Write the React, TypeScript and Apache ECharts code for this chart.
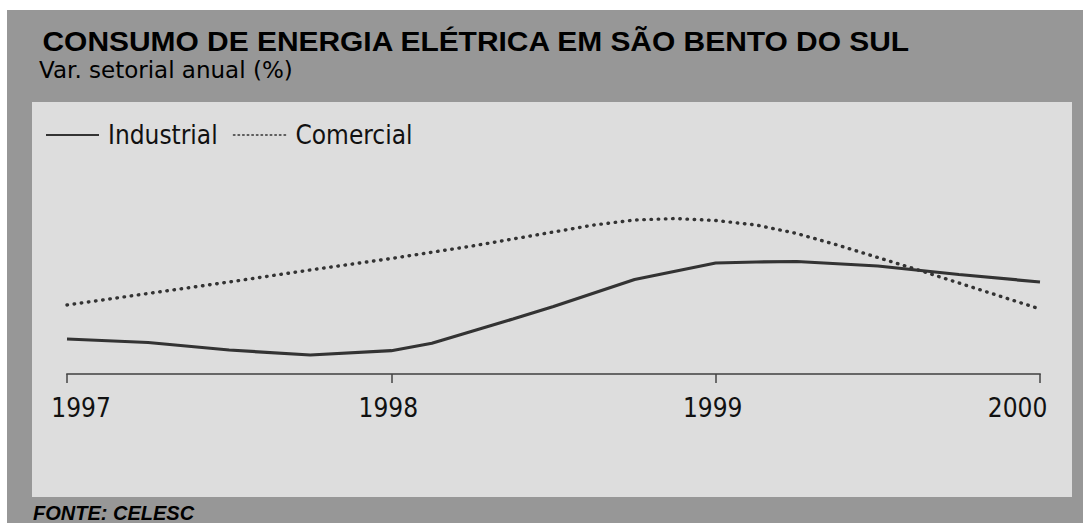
import React, { useEffect, useRef } from "react";
import * as echarts from "echarts";

const yearTicks = ["1997", "1998", "1999", "2000"];

const industrialYears = [1997, 1997.25, 1997.5, 1997.75, 1998, 1998.125, 1998.375, 1998.5, 1998.75, 1999, 1999.125, 1999.25, 1999.5, 1999.75, 2000];
const industrialValues = [3.5, 3.15, 2.4, 1.9, 2.33, 3.07, 5.5, 6.75, 9.45, 11.1, 11.2, 11.25, 10.8, 9.95, 9.2];

const comercialYears = [1997, 1997.25, 1997.5, 1997.75, 1998, 1998.25, 1998.5, 1998.625, 1998.75, 1998.875, 1999, 1999.125, 1999.25, 1999.375, 1999.5, 1999.625, 1999.75, 1999.875, 2000];
const comercialValues = [6.9, 8.05, 9.2, 10.4, 11.55, 12.8, 14.2, 14.9, 15.4, 15.55, 15.35, 14.9, 14.05, 12.9, 11.65, 10.4, 9.1, 7.8, 6.5];

const seriesNames = ["Industrial", "Comercial"];

const COND = "'DejaVu Sans Condensed', 'DejaVu Sans', sans-serif";

export default function App() {
  const ref = useRef<HTMLDivElement>(null);
  useEffect(() => {
    if (!ref.current) return;
    const chart = echarts.init(ref.current, null, { renderer: "svg" });
    const labelStyle = { fontSize: 26, fontFamily: COND, color: "#111" };
    chart.setOption({
      animation: false,
      backgroundColor: "#ffffff",
      graphic: [
        { type: "rect", z: -10, shape: { x: 7, y: 10, width: 1076, height: 513 }, style: { fill: "#979797" } },
        { type: "rect", z: -9, shape: { x: 32, y: 102, width: 1040, height: 395 }, style: { fill: "#dddddd" } },
        {
          type: "text", x: 42.5, y: 27.5, scaleX: 1.069, z: 5,
          style: { text: "CONSUMO DE ENERGIA ELÉTRICA EM SÃO BENTO DO SUL", font: "bold 28px 'Liberation Sans', Arial, sans-serif", fill: "#000", verticalAlign: "top", align: "left" },
        },
        {
          type: "text", x: 39, y: 58, z: 5,
          style: { text: "Var. setorial anual (%)", font: "23px 'DejaVu Sans', sans-serif", fill: "#000", verticalAlign: "top", align: "left" },
        },
        {
          type: "text", x: 33, y: 502.5, z: 5,
          style: { text: "FONTE: CELESC", font: "italic bold 20px 'Liberation Sans', Arial, sans-serif", fill: "#000", verticalAlign: "top", align: "left" },
        },
      ],
      legend: {
        left: 45,
        top: 122,
        padding: 0,
        itemWidth: 53,
        itemHeight: 14,
        itemGap: 15,
        itemStyle: { opacity: 0 },
        textStyle: { fontSize: 26, fontFamily: COND, color: "#111", padding: [0, 0, 0, 4] },
        data: [
          { name: seriesNames[0], lineStyle: { width: 2, color: "#333", type: "solid" } },
          { name: seriesNames[1], lineStyle: { width: 1.5, color: "#333", type: [1.5, 3.1] } },
        ],
      },
      grid: { left: 67, right: 43, top: 174, bottom: 149 },
      xAxis: {
        type: "value",
        min: 1997,
        max: 2000,
        interval: 1,
        splitLine: { show: false },
        axisLine: { show: true, lineStyle: { color: "#666", width: 2 } },
        axisTick: { show: true, length: 9, lineStyle: { color: "#444", width: 1.5 } },
        axisLabel: {
          margin: 21,
          ...labelStyle,
          formatter: (v: number) => {
            const s = String(Math.round(v));
            const i = yearTicks.indexOf(s);
            const key = i === 0 ? "first" : i === yearTicks.length - 1 ? "last" : "mid";
            return `{${key}|${yearTicks[i] ?? s}}`;
          },
          rich: {
            first: { ...labelStyle, padding: [0, 0, 0, 28] },
            mid: { ...labelStyle, padding: [0, 6, 0, 0] },
            last: { ...labelStyle, padding: [0, 45, 0, 0] },
          },
        },
      },
      yAxis: { type: "value", min: 0, max: 20, show: false, splitLine: { show: false } },
      series: [
        {
          name: seriesNames[0],
          type: "line",
          symbol: "none",
          data: industrialYears.map((x, i) => [x, industrialValues[i]]),
          lineStyle: { color: "#333", width: 3.2 },
          itemStyle: { color: "#333" },
          z: 3,
        },
        {
          name: seriesNames[1],
          type: "line",
          symbol: "none",
          data: comercialYears.map((x, i) => [x, comercialValues[i]]),
          lineStyle: { color: "#333", width: 3.4, type: [0.5, 6.7], cap: "round" },
          itemStyle: { color: "#333" },
          z: 2,
        },
      ],
    });
    return () => chart.dispose();
  }, []);
  return <div ref={ref} style={{ position: "fixed", left: 0, top: 0, width: 1083, height: 523 }} />;
}
